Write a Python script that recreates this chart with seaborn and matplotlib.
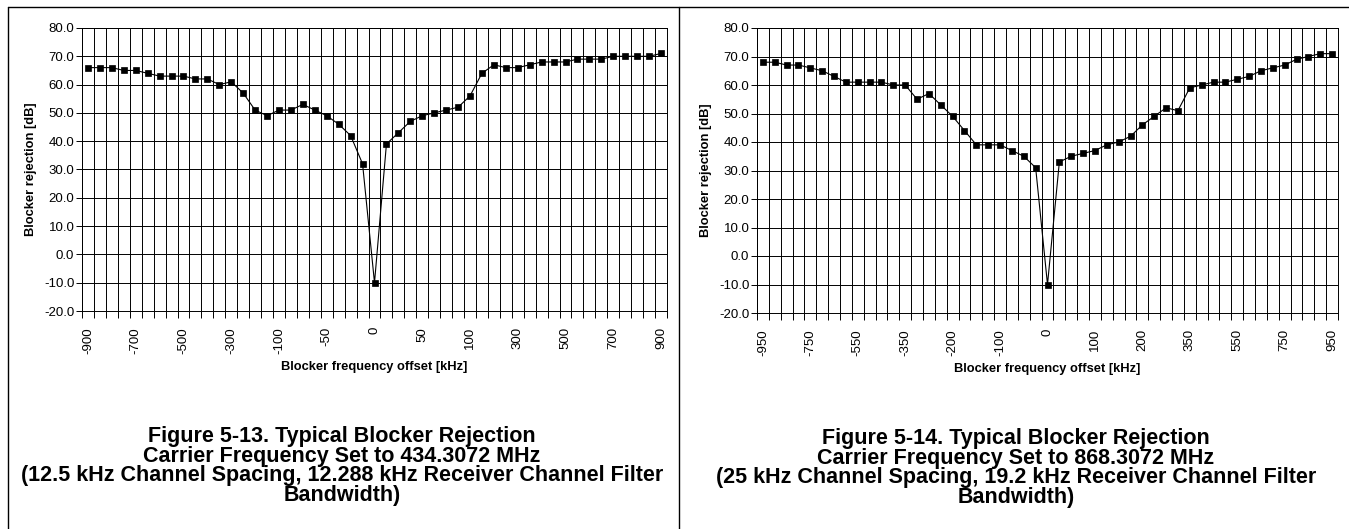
import matplotlib.pyplot as plt
import matplotlib.ticker as mticker
from matplotlib.lines import Line2D
import seaborn as sns
import pandas as pd

# category axis (kHz offsets), only every 4th label is shown
left_offsets = ["-900", "-850", "-800", "-750", "-700", "-650", "-600", "-550", "-500",
                "-450", "-400", "-350", "-300", "-250", "-200", "-150", "-100",
                "-87.5", "-75", "-62.5", "-50", "-37.5", "-25", "-12.5", "0",
                "12.5", "25", "37.5", "50", "62.5", "75", "87.5", "100",
                "150", "200", "250", "300", "350", "400", "450", "500",
                "550", "600", "650", "700", "750", "800", "850", "900"]
left_rejection = [66, 66, 66, 65, 65, 64, 63, 63, 63, 62, 62, 60, 61, 57, 51, 49, 51,
                  51, 53, 51, 49, 46, 42, 32, -10, 39, 43, 47, 49, 50, 51, 52, 56,
                  64, 67, 66, 66, 67, 68, 68, 68, 69, 69, 69, 70, 70, 70, 70, 71]

right_offsets = ["-950", "-900", "-850", "-800", "-750", "-700", "-650", "-600", "-550",
                 "-500", "-450", "-400", "-350", "-300", "-250", "-225", "-200",
                 "-175", "-150", "-125", "-100", "-75", "-50", "-25", "0",
                 "25", "50", "75", "100", "125", "150", "175", "200",
                 "225", "250", "300", "350", "400", "450", "500", "550",
                 "600", "650", "700", "750", "800", "850", "900", "950"]
right_rejection = [68, 68, 67, 67, 66, 65, 63, 61, 61, 61, 61, 60, 60, 55, 57, 53, 49,
                   44, 39, 39, 39, 37, 35, 31, -10, 33, 35, 36, 37, 39, 40, 42, 46,
                   49, 52, 51, 59, 60, 61, 61, 62, 63, 65, 66, 67, 69, 70, 71, 71]

left_caption = ("Figure 5-13. Typical Blocker Rejection\n"
                "Carrier Frequency Set to 434.3072 MHz\n"
                "(12.5 kHz Channel Spacing, 12.288 kHz Receiver Channel Filter\n"
                "Bandwidth)")
right_caption = ("Figure 5-14. Typical Blocker Rejection\n"
                 "Carrier Frequency Set to 868.3072 MHz\n"
                 "(25 kHz Channel Spacing, 19.2 kHz Receiver Channel Filter\n"
                 "Bandwidth)")

sns.set_style("white")
plt.rcParams['font.family'] = ['Liberation Sans', 'DejaVu Sans']
plt.rcParams['text.color'] = 'black'
plt.rcParams['axes.labelcolor'] = 'black'

W, H = 1349, 529
fig = plt.figure(figsize=(W / 100, H / 100), dpi=100)


def px_axes(x0, y0, x1, y1):
    return fig.add_axes([x0 / W, 1 - y1 / H, (x1 - x0) / W, (y1 - y0) / H])


def draw_panel(ax, offsets, values):
    df = pd.DataFrame({'offset': offsets, 'rejection': values})
    sns.lineplot(data=df, x='offset', y='rejection', sort=False, ax=ax,
                 color='black', linewidth=0.8, marker='s', markersize=4.5,
                 markeredgecolor='black', markeredgewidth=0.5)
    n = len(offsets)
    ax.set_xlim(-0.5, n - 0.5)
    ax.set_ylim(-20, 80)

    ax.set_xticks(range(0, n, 4))
    ax.set_xticklabels([offsets[i] for i in range(0, n, 4)], rotation=90)
    ax.set_xticks([i - 0.5 for i in range(n + 1)], minor=True)
    ax.yaxis.set_major_locator(mticker.MultipleLocator(10))
    ax.yaxis.set_major_formatter(mticker.FormatStrFormatter('%.1f'))

    ax.grid(which='minor', axis='x', color='black', linewidth=0.7)
    ax.grid(which='major', axis='y', color='black', linewidth=0.7)
    ax.grid(which='major', axis='x', visible=False)

    ax.tick_params(axis='x', which='major', bottom=True, length=0, pad=11.5,
                   labelsize=9.5, colors='black')
    ax.tick_params(axis='x', which='minor', bottom=True, length=5, width=0.7,
                   color='black')
    ax.tick_params(axis='y', left=True, length=4, width=0.7, pad=1.5,
                   labelsize=9.5, colors='black')
    for sp in ax.spines.values():
        sp.set_color('black')
        sp.set_linewidth(0.7)

    ax.set_xlabel('Blocker frequency offset [kHz]', fontsize=9.3, fontweight='bold',
                  labelpad=5)
    ax.set_ylabel('Blocker rejection [dB]', fontsize=9.3, fontweight='bold',
                  labelpad=5)


ax_left = px_axes(82, 28, 667, 311)
draw_panel(ax_left, left_offsets, left_rejection)

ax_right = px_axes(757, 28, 1338, 313)
draw_panel(ax_right, right_offsets, right_rejection)

fig.text(342 / W, 1 - 466 / H, left_caption, ha='center', va='center',
         fontsize=15.5, fontweight='bold', linespacing=0.93)
fig.text(1016 / W, 1 - 468 / H, right_caption, ha='center', va='center',
         fontsize=15.5, fontweight='bold', linespacing=0.93)

# table border around the two figures
for xs, ys in [([8, W], [7, 7]), ([8, 8], [7, H]), ([679, 679], [7, H])]:
    fig.add_artist(Line2D([x / W for x in xs], [1 - y / H for y in ys],
                          color='black', linewidth=1, transform=fig.transFigure))

fig.savefig('out.png', dpi=100)
